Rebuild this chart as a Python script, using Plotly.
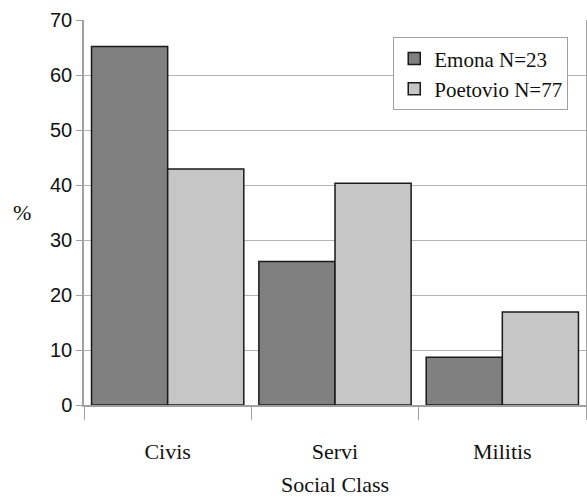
import plotly.graph_objects as go

categories = ["Civis", "Servi", "Militis"]
emona = [65.2, 26.1, 8.7]
poetovio = [42.9, 40.3, 16.9]
series_names = ["Emona N=23", "Poetovio N=77"]
y_ticks = [0, 10, 20, 30, 40, 50, 60, 70]

serif = "Liberation Serif, Times New Roman, serif"
sans = "Liberation Sans, Arial, sans-serif"

fig = go.Figure()
fig.add_trace(go.Bar(x=categories, y=emona, name=series_names[0],
                     marker=dict(color="#808080", line=dict(color="#1a1a1a", width=1.5))))
fig.add_trace(go.Bar(x=categories, y=poetovio, name=series_names[1],
                     marker=dict(color="#c6c6c6", line=dict(color="#1a1a1a", width=1.5))))

fig.update_layout(
    width=587, height=497,
    margin=dict(l=84, r=1, t=20, b=92, autoexpand=False),
    paper_bgcolor="white", plot_bgcolor="white",
    barmode="group", bargap=0.09, bargroupgap=0,
    showlegend=True,
    legend=dict(x=0.616, y=0.955, xanchor="left", yanchor="top",
                bgcolor="white", bordercolor="#a0a0a0", borderwidth=1,
                font=dict(family=serif, size=21, color="#111"),
                tracegroupgap=0),
    xaxis=dict(
        type="category", tickson="boundaries", ticks="outside", ticklen=13,
        tickcolor="#a0a0a0", showgrid=False, showline=True, linecolor="#a0a0a0",
        linewidth=1.5, automargin=False, ticklabelstandoff=26,
        tickfont=dict(family=serif, size=22, color="#111"),
        title=dict(text="Social Class", font=dict(family=serif, size=22, color="#111"),
                   standoff=16),
    ),
    yaxis=dict(
        range=[0, 70], tickvals=y_ticks, ticks="outside", ticklen=6,
        tickcolor="#a0a0a0", showgrid=True, gridcolor="#b4b4b4", gridwidth=1.2,
        showline=True, linecolor="#a0a0a0", linewidth=1.5, mirror=True,
        zeroline=False, automargin=False,
        tickfont=dict(family=sans, size=20, color="#111"),
    ),
    annotations=[dict(text="%", xref="paper", yref="paper", x=-0.123, y=0.5,
                      xanchor="center", yanchor="middle", showarrow=False,
                      font=dict(family=serif, size=22, color="#111"))],
)

fig.write_html("out.html", config={"displayModeBar": False},
               post_script="document.body.style.margin='0';")
